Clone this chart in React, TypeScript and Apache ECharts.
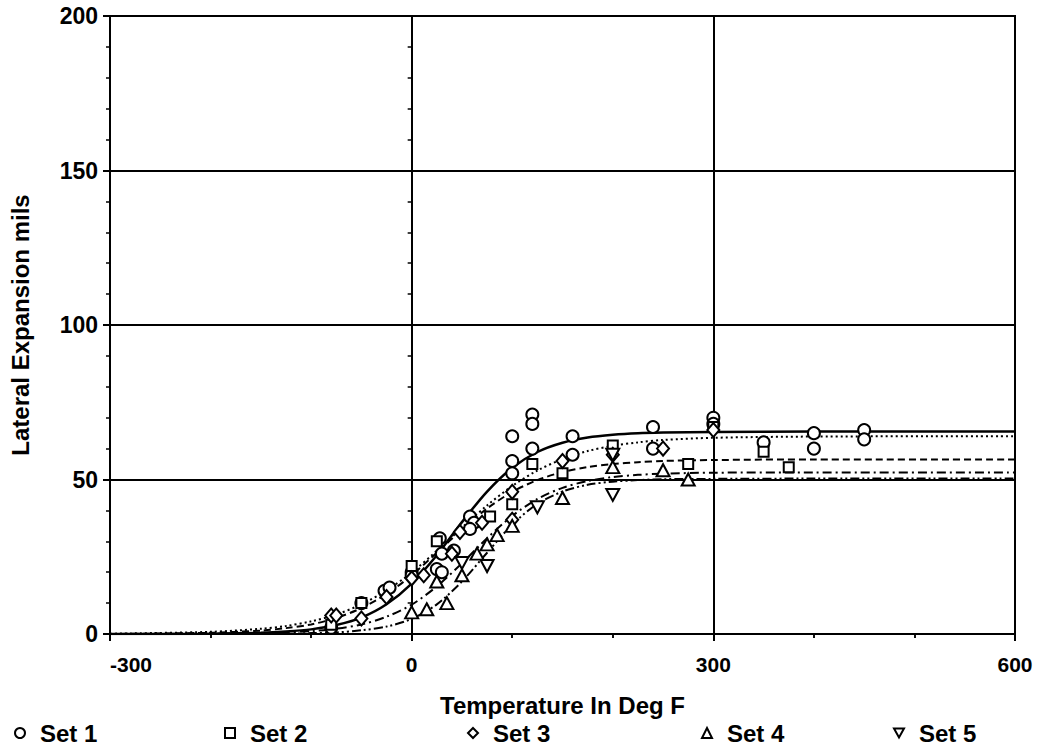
import React, { useEffect, useRef } from "react";
import * as echarts from "echarts";

// Charpy lateral expansion test results, five heats
const setNames = ["Set 1", "Set 2", "Set 3", "Set 4", "Set 5"];

const set1: [number, number][] = [
  [-80, 2], [-50, 10], [-27, 14], [-22, 15], [0, 20], [0, 19], [25, 21], [30, 20],
  [28, 31], [30, 26], [42, 27], [58, 38], [62, 36], [58, 34], [100, 64], [100, 56],
  [100, 52], [120, 71], [120, 68], [120, 60], [160, 64], [160, 58], [240, 67], [240, 60],
  [300, 70], [300, 68], [350, 62], [400, 65], [400, 60], [450, 66], [450, 63],
];
const set2: [number, number][] = [
  [-80, 3], [-50, 10], [0, 22], [25, 30], [78, 38], [100, 42], [120, 55], [150, 52],
  [200, 61], [275, 55], [300, 67], [350, 59], [375, 54],
];
const set3: [number, number][] = [
  [-80, 6], [-75, 6], [-50, 5], [-25, 12], [0, 18], [12, 19], [40, 26], [48, 33],
  [70, 36], [100, 46], [100, 37], [150, 56], [200, 58], [250, 60], [300, 66],
];
const set4: [number, number][] = [
  [0, 7], [15, 8], [25, 17], [35, 10], [50, 19], [65, 26], [75, 29], [85, 32],
  [100, 35], [150, 44], [200, 54], [250, 53], [275, 50],
];
const set5: [number, number][] = [
  [50, 23], [75, 22], [125, 41], [200, 58], [200, 45],
];

// Fitted transition curves sampled at these temperatures
const curveTemps = [-300, -200, -150, -125, -100, -75, -50, -25, 0, 25, 50, 75, 100, 125, 150, 175, 200, 225, 250, 300, 400, 600];
const curve1 = [0.0, 0.1, 0.4, 0.8, 1.5, 2.9, 5.3, 9.6, 16.3, 25.5, 36.2, 46.1, 53.8, 58.9, 61.9, 63.6, 64.5, 65.0, 65.2, 65.4, 65.5, 65.5];
const curve2 = [0.1, 0.7, 1.7, 2.6, 4.1, 6.3, 9.6, 14.1, 19.9, 26.9, 34.4, 41.6, 47.9, 52.9, 56.6, 59.2, 60.9, 62.0, 62.8, 63.5, 63.9, 64.0];
const curve3 = [0.0, 0.4, 1.1, 1.9, 3.1, 5.2, 8.4, 12.9, 19.0, 26.3, 33.8, 40.6, 46.0, 49.8, 52.4, 54.0, 55.0, 55.6, 56.0, 56.3, 56.5, 56.5];
const curve4 = [0.0, 0.1, 0.3, 0.5, 0.9, 1.7, 3.1, 5.6, 9.5, 15.4, 22.9, 31.0, 38.2, 43.7, 47.3, 49.5, 50.8, 51.5, 51.9, 52.2, 52.3, 52.3];
const curve5 = [0.0, 0.0, 0.1, 0.1, 0.3, 0.5, 1.2, 2.4, 4.9, 9.6, 17.0, 26.3, 35.4, 42.1, 46.1, 48.3, 49.3, 49.8, 50.1, 50.2, 50.3, 50.3];

const xTicks = [-300, 0, 300, 600];
const yTicks = [0, 50, 100, 150, 200];

const FONT = "'Liberation Sans', Arial, sans-serif";
const INK = "#000";

const symbols = ["circle", "rect", "diamond", "triangle", "path://M0,0 L10,0 L5,9 Z"];
const symbolSizes: (number | number[])[] = [12, 10, [12, 14], [13, 12], [13, 12]];
const legendLefts = [9, 219, 462, 696, 888];

const dashes: any[] = ["solid", [2, 3], [7, 4], [9, 4, 2, 4], [9, 3, 2, 3, 2, 3]];

export default function App() {
  const ref = useRef<HTMLDivElement>(null);

  useEffect(() => {
    if (!ref.current) return;
    const chart = echarts.init(ref.current, undefined, { renderer: "svg" });

    const sets = [set1, set2, set3, set4, set5];
    const curves = [curve1, curve2, curve3, curve4, curve5];

    const scatterSeries = sets.map((d, i) => ({
      name: setNames[i],
      type: "scatter",
      data: d,
      symbol: symbols[i],
      symbolSize: symbolSizes[i],
      itemStyle: { color: "#fff", borderColor: INK, borderWidth: 2, opacity: 1 },
      z: 5,
    }));

    const lineSeries = curves.map((c, i) => ({
      name: setNames[i] + " fit",
      type: "line",
      data: curveTemps.map((t, k) => [t, c[k]]),
      smooth: 0.3,
      showSymbol: false,
      symbol: "none",
      silent: true,
      lineStyle: { color: INK, width: i === 0 ? 2.5 : 2, type: dashes[i] },
      z: 3,
    }));

    const axisCommon = {
      axisLine: { show: true, onZero: false, lineStyle: { color: INK, width: 2 } },
      splitLine: { show: true, lineStyle: { color: INK, width: 2 } },
    };

    chart.setOption({
      animation: false,
      backgroundColor: "#fff",
      grid: { left: 110, right: 29, top: 16, bottom: 115, show: true, borderColor: INK, borderWidth: 2 },
      legend: setNames.map((n, i) => ({
        data: [n],
        left: legendLefts[i],
        top: 716,
        itemWidth: 10,
        itemHeight: 10,
        itemGap: 14,
        selectedMode: false,
        textStyle: { fontFamily: FONT, fontWeight: "bold", fontSize: 24, color: INK, padding: [0, 0, 0, 10] },
      })),
      xAxis: [
        {
          type: "value",
          min: xTicks[0],
          max: xTicks[xTicks.length - 1],
          interval: 300,
          ...axisCommon,
          axisTick: { show: true, length: 7, lineStyle: { color: INK, width: 2 } },
          minorTick: { show: true, splitNumber: 3, length: 4, lineStyle: { color: INK, width: 1.5 } },
          axisLabel: { fontFamily: FONT, fontWeight: "bold", fontSize: 21, color: INK, margin: 20, alignMinLabel: "left" },
          name: "Temperature In Deg F",
          nameLocation: "middle",
          nameGap: 59,
          nameTextStyle: { fontFamily: FONT, fontWeight: "bold", fontSize: 24, color: INK },
        },
        {
          type: "value",
          position: "bottom",
          min: xTicks[0],
          max: xTicks[xTicks.length - 1],
          interval: 300,
          axisLine: { show: false },
          splitLine: { show: false },
          axisLabel: { show: false },
          axisTick: { show: false },
          minorTick: { show: true, splitNumber: 3, length: 4, lineStyle: { color: INK, width: 1.5 } },
        },
      ],
      yAxis: [
        {
          type: "value",
          min: yTicks[0],
          max: yTicks[yTicks.length - 1],
          interval: 50,
          ...axisCommon,
          axisTick: { show: true, length: 7, lineStyle: { color: INK, width: 2 } },
          minorTick: { show: true, splitNumber: 5, length: 4, lineStyle: { color: INK, width: 1.5 } },
          axisLabel: { fontFamily: FONT, fontWeight: "bold", fontSize: 23, color: INK, margin: 12 },
          name: "Lateral Expansion mils",
          nameLocation: "middle",
          nameGap: 78,
          nameTextStyle: { fontFamily: FONT, fontWeight: "bold", fontSize: 24, color: INK },
        },
        {
          type: "value",
          position: "left",
          min: yTicks[0],
          max: yTicks[yTicks.length - 1],
          interval: 50,
          axisLine: { show: false },
          splitLine: { show: false },
          axisLabel: { show: false },
          axisTick: { show: false },
          minorTick: { show: true, splitNumber: 5, length: 4, lineStyle: { color: INK, width: 1.5 } },
        },
      ],
      series: [...lineSeries, ...scatterSeries],
    });

    return () => chart.dispose();
  }, []);

  return (
    <div
      ref={ref}
      style={{ position: "absolute", left: 0, top: 0, width: 1044, height: 749, background: "#fff" }}
    />
  );
}
